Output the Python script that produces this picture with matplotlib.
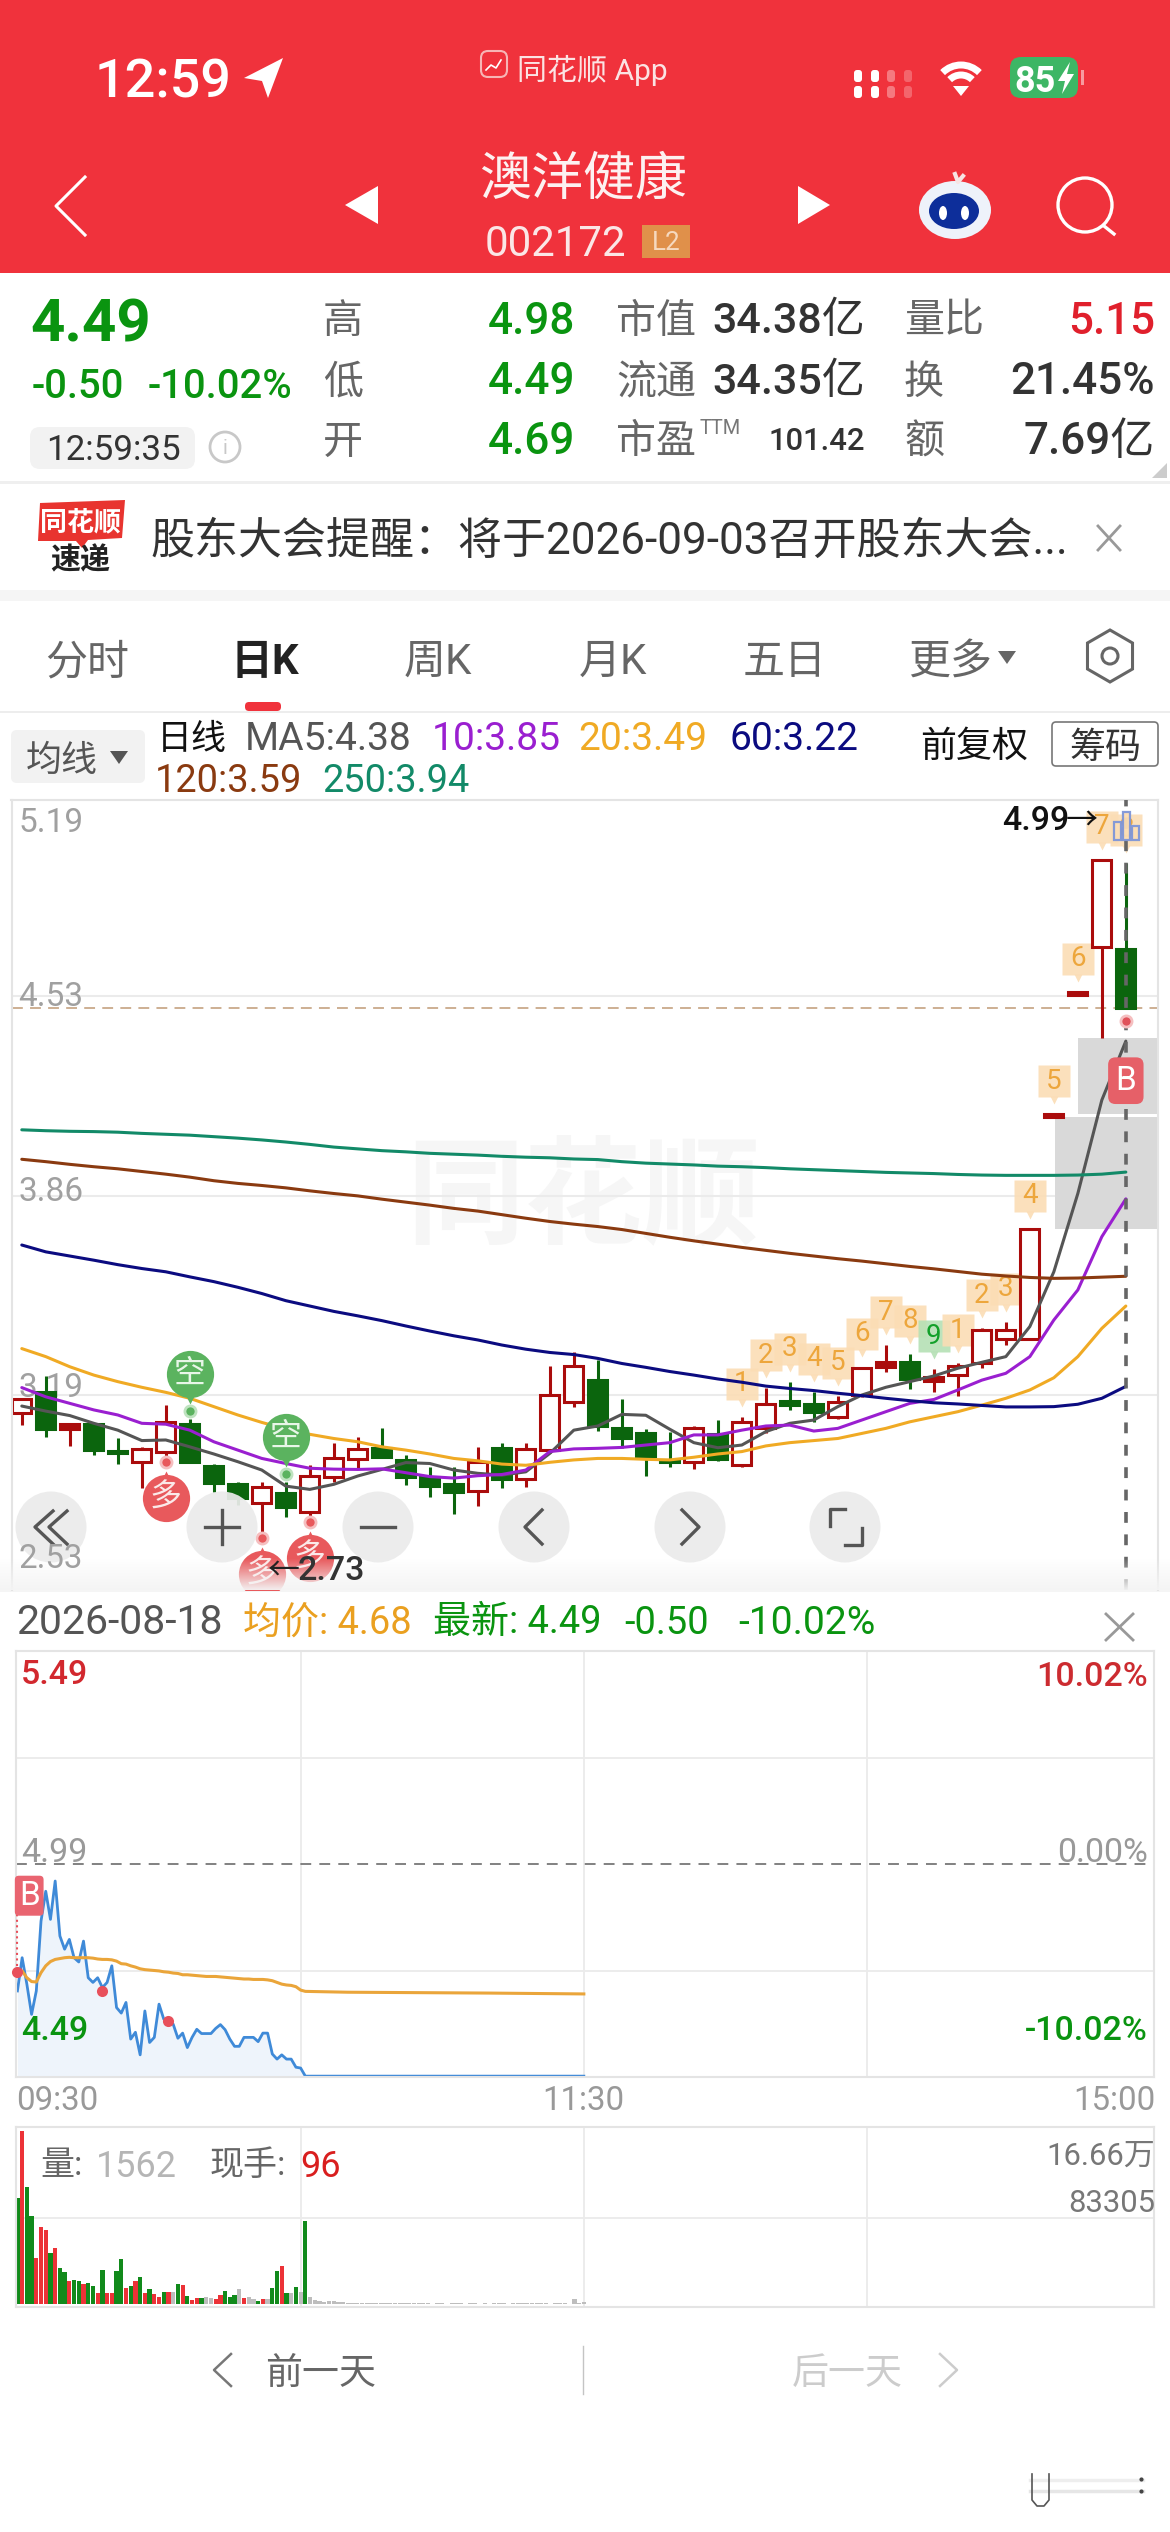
import matplotlib
matplotlib.use("Agg")
import matplotlib.pyplot as plt
import numpy as np
from matplotlib.patches import Rectangle, Circle, Ellipse, Polygon, FancyBboxPatch, Arc, RegularPolygon
from matplotlib.transforms import offset_copy

plt.rcParams['font.family'] = ['Roboto', 'Noto Sans CJK SC', 'DejaVu Sans']

W, H = 1170, 2532

# daily candles
k_open = [3.129, 3.202, 3.077, 3.092, 3.003, 2.967, 2.998, 3.092, 2.954, 2.891, 2.829, 2.863,
          2.797, 2.917, 2.976, 3.012, 2.973, 2.917, 2.892, 2.868, 3.012, 2.908, 3.008, 3.169,
          3.241, 3.081, 3.062, 2.973, 2.967, 3.060, 2.956, 3.079, 3.172, 3.161, 3.118, 3.191,
          3.286, 3.302, 3.238, 3.258, 3.300, 3.378, 3.378, 4.125, 4.535, 4.695, 4.69]
k_close = [3.177, 3.076, 3.093, 3.006, 2.996, 3.011, 3.099, 2.965, 2.896, 2.846, 2.881, 2.816,
           2.919, 2.980, 3.010, 2.984, 2.917, 2.885, 2.866, 2.965, 2.908, 3.010, 3.191, 3.289,
           3.087, 3.045, 2.986, 2.965, 3.081, 2.975, 3.100, 3.160, 3.156, 3.135, 3.169, 3.281,
           3.302, 3.246, 3.250, 3.289, 3.409, 3.409, 3.750, 4.135, 4.545, 4.99, 4.49]
k_high = [3.177, 3.255, 3.098, 3.092, 3.048, 3.017, 3.157, 3.109, 2.958, 2.898, 2.898, 2.898,
          2.956, 3.029, 3.049, 3.079, 2.989, 2.950, 2.948, 3.017, 3.029, 3.029, 3.288, 3.336,
          3.309, 3.178, 3.076, 3.068, 3.087, 3.107, 3.118, 3.213, 3.236, 3.202, 3.188, 3.286,
          3.359, 3.329, 3.277, 3.297, 3.415, 3.437, 3.750, 4.135, 4.545, 4.99, 4.98]
k_low = [3.090, 3.049, 3.020, 2.990, 2.959, 2.880, 2.984, 2.961, 2.866, 2.821, 2.726, 2.780,
         2.782, 2.900, 2.945, 2.978, 2.889, 2.849, 2.790, 2.818, 2.880, 2.881, 2.995, 3.150,
         3.071, 3.012, 2.920, 2.950, 2.941, 2.969, 2.950, 3.062, 3.141, 3.101, 3.109, 3.183,
         3.269, 3.210, 3.200, 3.189, 3.281, 3.359, 3.378, 4.125, 4.535, 4.39, 4.49]

ma5 = [3.154, 3.137, 3.122, 3.096, 3.073, 3.038, 3.040, 3.017, 2.993, 2.967, 2.939, 2.885,
       2.874, 2.891, 2.919, 2.941, 2.964, 2.961, 2.939, 2.928, 2.922, 2.933, 2.995, 3.073,
       3.087, 3.126, 3.123, 3.076, 3.031, 3.014, 3.023, 3.068, 3.096, 3.107, 3.152, 3.191,
       3.217, 3.236, 3.255, 3.281, 3.301, 3.320, 3.421, 3.605, 3.868, 4.182, 4.38]
ma10 = [3.216, 3.185, 3.163, 3.141, 3.124, 3.096, 3.093, 3.073, 3.034, 3.006, 2.978, 2.961,
        2.945, 2.942, 2.941, 2.943, 2.930, 2.917, 2.912, 2.920, 2.924, 2.939, 3.001, 3.010,
        3.012, 3.015, 3.023, 3.031, 3.057, 3.057, 3.073, 3.087, 3.090, 3.070, 3.079, 3.107,
        3.135, 3.163, 3.176, 3.208, 3.241, 3.264, 3.320, 3.443, 3.544, 3.723, 3.85]
ma20 = [3.347, 3.320, 3.286, 3.258, 3.236, 3.217, 3.200, 3.180, 3.152, 3.124, 3.099, 3.077,
        3.059, 3.045, 3.034, 3.017, 3.006, 2.993, 2.978, 2.970, 2.959, 2.955, 2.965, 2.973,
        2.978, 2.978, 2.975, 2.973, 2.982, 2.993, 3.001, 3.020, 3.031, 3.038, 3.045, 3.062,
        3.079, 3.101, 3.118, 3.135, 3.157, 3.180, 3.208, 3.249, 3.320, 3.415, 3.49]
ma60 = [3.695, 3.672, 3.658, 3.644, 3.629, 3.616, 3.605, 3.588, 3.572, 3.553, 3.532, 3.508,
        3.490, 3.472, 3.457, 3.441, 3.423, 3.406, 3.390, 3.376, 3.359, 3.345, 3.334, 3.327,
        3.314, 3.297, 3.284, 3.270, 3.258, 3.245, 3.234, 3.221, 3.213, 3.206, 3.197, 3.189,
        3.180, 3.172, 3.165, 3.161, 3.156, 3.151, 3.151, 3.152, 3.160, 3.180, 3.22]
ma120 = [3.983, 3.975, 3.966, 3.958, 3.951, 3.942, 3.933, 3.923, 3.911, 3.902, 3.895, 3.887,
         3.877, 3.868, 3.860, 3.849, 3.839, 3.829, 3.818, 3.809, 3.797, 3.785, 3.774, 3.765,
         3.757, 3.747, 3.734, 3.721, 3.709, 3.698, 3.687, 3.677, 3.667, 3.658, 3.649, 3.641,
         3.632, 3.623, 3.615, 3.606, 3.597, 3.591, 3.586, 3.583, 3.584, 3.587, 3.59]
ma250 = [4.082, 4.079, 4.077, 4.076, 4.074, 4.070, 4.067, 4.064, 4.059, 4.054, 4.048, 4.041,
         4.033, 4.024, 4.018, 4.012, 4.008, 4.003, 4.000, 3.997, 3.993, 3.990, 3.988, 3.984,
         3.982, 3.975, 3.970, 3.967, 3.964, 3.960, 3.958, 3.955, 3.951, 3.948, 3.945, 3.942,
         3.939, 3.937, 3.935, 3.932, 3.930, 3.929, 3.929, 3.929, 3.930, 3.933, 3.94]
ma_colors = ['#555555', '#9A1FD0', '#F0AA24', '#0B0B80', '#8A3A10', '#128A68']

k_ticks = [5.19, 4.53, 3.86, 3.19, 2.53]
gaps = [(43.05, 3.75, 4.125), (44.0, 4.135, 4.39)]
tag_days = list(range(30, 47))
tag_text = ['1', '2', '3', '4', '5', '6', '7', '8', '9', '1', '2', '3', '4', '5', '6', '7', '8']
short_days = [7, 11]
long_days = [6, 10, 12]

# intraday, one value a minute from 09:30
minute_price = [4.692, 4.770, 4.708, 4.637, 4.692, 4.856, 4.926, 4.860, 4.950, 4.821, 4.790, 4.813,
                4.770, 4.760, 4.809, 4.723, 4.712, 4.723, 4.700, 4.712, 4.751, 4.653, 4.640, 4.665,
                4.579, 4.595, 4.542, 4.645, 4.571, 4.583, 4.661, 4.626, 4.622, 4.614, 4.581, 4.593,
                4.559, 4.583, 4.602, 4.592, 4.592, 4.592, 4.604, 4.613, 4.601, 4.579, 4.562, 4.562,
                4.583, 4.583, 4.583, 4.573, 4.593, 4.593, 4.544, 4.532, 4.542, 4.532, 4.532, 4.513,
                4.511, 4.492] + [4.492] * 59
avg_price = [4.739, 4.739, 4.723, 4.714, 4.713, 4.735, 4.751, 4.761, 4.766, 4.768, 4.770, 4.771,
             4.770, 4.770, 4.770, 4.770, 4.769, 4.767, 4.766, 4.766, 4.765, 4.762, 4.756, 4.755,
             4.751, 4.748, 4.744, 4.742, 4.741, 4.740, 4.739, 4.737, 4.736, 4.734, 4.733, 4.730,
             4.730, 4.729, 4.728, 4.727, 4.726, 4.726, 4.726, 4.725, 4.724, 4.723, 4.722, 4.721,
             4.720, 4.720, 4.719, 4.719, 4.719, 4.718, 4.716, 4.712, 4.708, 4.706, 4.705, 4.702,
             4.694, 4.691]
avg_late_min = [70, 85, 100, 120]
avg_late = [4.689, 4.688, 4.687, 4.685]
trade_min = [0, 18, 32]
trade_price = [4.737, 4.692, 4.622]

volume = [101900, 166600, 113200, 84900, 44700, 74000, 71700, 49500, 53700, 34400, 30900, 22200,
          22800, 22200, 19300, 20300, 17700, 10900, 32800, 10600, 10900, 32200, 43100, 15100,
          17700, 21900, 25700, 10600, 14200, 9300, 7100, 11300, 11300, 11300, 19300, 18000,
          7700, 4200, 5500, 5800, 7100, 5500, 4800, 8700, 12900, 7100, 8700, 14200,
          5500, 6800, 5100, 2900, 4800, 4800, 15100, 32200, 36700, 10300, 10300, 16400,
          11600, 80100]
volume_late = [7100, 3900, 2600, 1600, 2600, 2900, 2300, 1600, 1000, 900, 800, 700, 700, 600, 600,
               700, 800, 600, 500, 500, 600, 500, 500, 800, 600, 500, 400, 500, 500, 400, 500, 800,
               500, 400, 500, 700, 400, 500, 400, 600, 800, 500, 400, 600, 1000, 900, 1000, 700,
               600, 500, 500, 400, 500, 600, 500, 400, 4500, 800, 1562]
vol_kinds = list("grgg" "rrrg" "rggr" "ggrg" "grgr" "rggr" "grgr" "grrg" "rngr"
                 "grrg" "nnrr" "gggn" "rnng" "rngg" "rgng" "ng") + ["n"] * len(volume_late)
vol_colors = {'r': '#EC3237', 'g': '#118A1B', 'n': '#BDBDBD'}

RED = '#F0323C'
GREEN = '#0A9410'
DARK_RED = '#AA0C0C'
DARK_GREEN = '#0B650D'
GRID = '#EBEBEB'

fig = plt.figure(figsize=(W / 100, H / 100), dpi=100, facecolor='white')


def px_axes(z):
    a = fig.add_axes([0, 0, 1, 1], zorder=z)
    a.set_xlim(0, W)
    a.set_ylim(H, 0)
    a.axis('off')
    a.patch.set_alpha(0)
    return a


def rect_axes(x0, y0, x1, y1, z):
    a = fig.add_axes([x0 / W, 1 - y1 / H, (x1 - x0) / W, (y1 - y0) / H], zorder=z)
    a.patch.set_alpha(0)
    a.set_xticks([])
    a.set_yticks([])
    for s in a.spines.values():
        s.set_color('#E4E4E4')
        s.set_linewidth(1.5)
    return a


bg = px_axes(0)
over = px_axes(10)


def label(a, x, y, s, px, color='#333333', ha='left', weight='normal', **kw):
    a.text(x, y, s, fontsize=px * 0.72, color=color, ha=ha, va='center_baseline', weight=weight, **kw)


# ---- header
bg.add_patch(Rectangle((0, 0), W, 273, fc=RED, ec='none'))
label(bg, 95, 77, '12:59', 54, 'white', weight='medium')
bg.add_patch(Polygon([(283, 58), (244, 78), (262, 81), (268, 98)], fc='white', ec='none'))
bg.add_patch(FancyBboxPatch((481, 51), 26, 26, boxstyle='round,pad=0,rounding_size=7', fc=RED, ec='#F7B5B5', lw=1.5))
bg.plot([486, 491, 496, 501], [70, 65, 68, 60], color='white', lw=1.2)
label(bg, 517, 67, '同花顺 App', 30, '#FBE3E3')
for cx, alpha in zip([858, 875, 891, 908], [1, 1, 0.35, 0.25]):
    for cy, hh in zip([76, 92], [12, 12]):
        bg.add_patch(FancyBboxPatch((cx - 4, cy - hh / 2), 8, hh, boxstyle='round,pad=0,rounding_size=3',
                                    fc='white', ec='none', alpha=alpha))
for r, lw in zip([26, 16], [5, 5]):
    bg.add_patch(Arc((961, 91), 2 * r, 2 * r, theta1=225, theta2=315, color='white', lw=lw))
bg.add_patch(Polygon([(953, 86), (969, 86), (961, 96)], fc='white', ec='none'))
bg.add_patch(FancyBboxPatch((1010, 57), 68, 41, boxstyle='round,pad=0,rounding_size=11', fc='#3DB665', ec='none'))
bg.add_patch(Rectangle((1081, 70), 3, 15, fc='#F79A9F', ec='none'))
label(bg, 1014, 78, '85', 36, 'white', weight='bold')
bg.add_patch(Polygon([(1070, 62), (1058, 81), (1065, 81), (1062, 94), (1074, 74), (1067, 74)], fc='white', ec='none'))

label(bg, 583, 175, '澳洋健康', 52, '#FDF1F1', ha='center')
label(bg, 485, 240, '002172', 42, '#FBE6E6')
bg.add_patch(Rectangle((642, 225), 48, 33, fc='#E0904A', ec='none'))
label(bg, 666, 241, 'L2', 26, '#F6D9BF', ha='center')
bg.plot([85, 56, 85], [177, 206, 235], color='white', lw=2.2)
bg.add_patch(Polygon([(378, 186), (345, 205), (378, 224)], fc='white', ec='none'))
bg.add_patch(Polygon([(798, 186), (830, 205), (798, 224)], fc='white', ec='none'))
# robot
bg.add_patch(Ellipse((955, 210), 72, 58, fc='#EEF2FA', ec='none'))
bg.add_patch(Ellipse((954, 211), 50, 36, fc='#0D2E9A', ec='none'))
bg.add_patch(Ellipse((943, 213), 8, 14, fc='white', ec='none'))
bg.add_patch(Ellipse((965, 213), 8, 14, fc='white', ec='none'))
bg.plot([955, 958, 963], [174, 182, 176], color='#F7E4E4', lw=3)
bg.add_patch(Circle((1085, 205), 27, fc='none', ec='white', lw=2.4))
bg.plot([1104, 1114], [226, 234], color='white', lw=2.4)

# ---- quote block
label(bg, 30, 319, '4.49', 60, GREEN, weight='bold')
label(bg, 32, 383, '-0.50', 40, GREEN, weight='medium')
label(bg, 148, 383, '-10.02%', 40, GREEN, weight='medium')
bg.add_patch(FancyBboxPatch((30, 427), 165, 42, boxstyle='round,pad=0,rounding_size=10', fc='#F2F2F2', ec='none'))
label(bg, 113, 447, '12:59:35', 35, '#333333', ha='center')
bg.add_patch(Circle((225, 447), 15, fc='none', ec='#C8C8C8', lw=2))
label(bg, 225, 447, 'i', 20, '#C8C8C8', ha='center')
rows_y = [317, 378, 438]
for y, name, val in zip(rows_y, ['高', '低', '开'], ['4.98', '4.49', '4.69']):
    label(bg, 343, y, name, 40, '#666666', ha='center')
    label(bg, 575, y, val, 44, GREEN, ha='right', weight='medium')
label(bg, 616, rows_y[0], '市值', 40, '#666666')
label(bg, 616, rows_y[1], '流通', 40, '#666666')
label(bg, 616, rows_y[2], '市盈', 40, '#666666')
label(bg, 700, 426, 'TTM', 20, '#777777')
label(bg, 865, rows_y[0], '34.38亿', 43, '#333333', ha='right', weight='medium')
label(bg, 865, rows_y[1], '34.35亿', 43, '#333333', ha='right', weight='medium')
label(bg, 865, rows_y[2], '101.42', 31, '#333333', ha='right', weight='medium')
label(bg, 904, rows_y[0], '量比', 40, '#666666')
label(bg, 904, rows_y[1], '换', 40, '#666666')
label(bg, 904, rows_y[2], '额', 40, '#666666')
label(bg, 1155, rows_y[0], '5.15', 44, '#E0202C', ha='right', weight='medium')
label(bg, 1155, rows_y[1], '21.45%', 44, '#333333', ha='right', weight='medium')
label(bg, 1155, rows_y[2], '7.69亿', 44, '#333333', ha='right', weight='medium')
bg.add_patch(Polygon([(1167, 463), (1167, 478), (1152, 478)], fc='#CCCCCC', ec='none'))
bg.add_patch(Rectangle((0, 481), W, 3, fc='#EFEFEF', ec='none'))

# ---- news strip
bg.add_patch(Polygon([(40, 503), (125, 500), (122, 538), (88, 540), (82, 548), (76, 541), (38, 541)], fc='#E8342F', ec='none'))
label(bg, 81, 520, '同花顺', 27, 'white', ha='center', weight='bold', style='italic')
label(bg, 80, 558, '速递', 30, '#222222', ha='center', weight='bold', style='italic')
label(bg, 150, 537, '股东大会提醒：将于2026-09-03召开股东大会...', 44, '#333333')
bg.plot([1098, 1120], [526, 550], color='#999999', lw=2)
bg.plot([1098, 1120], [550, 526], color='#999999', lw=2)
bg.add_patch(Rectangle((0, 590), W, 11, fc='#F5F5F5', ec='none'))

# ---- tabs
for cx, name, col, wt in zip([87, 265, 438, 613, 785], ['分时', '日K', '周K', '月K', '五日'],
                             ['#666666', '#222222', '#666666', '#666666', '#666666'],
                             ['normal', 'bold', 'normal', 'normal', 'normal']):
    label(bg, cx, 658, name, 42, col, ha='center', weight=wt)
label(bg, 908, 658, '更多', 42, '#666666')
bg.add_patch(Polygon([(998, 651), (1016, 651), (1007, 664)], fc='#666666', ec='none'))
bg.add_patch(RegularPolygon((1110, 656), 6, radius=26, fc='none', ec='#666666', lw=2.2))
bg.add_patch(Circle((1110, 656), 8, fc='none', ec='#666666', lw=2.2))
bg.add_patch(FancyBboxPatch((245, 702), 36, 9, boxstyle='round,pad=0,rounding_size=4', fc=RED, ec='none'))
bg.add_patch(Rectangle((0, 711), W, 2, fc='#EDEDED', ec='none'))

bg.add_patch(FancyBboxPatch((11, 730), 134, 53, boxstyle='round,pad=0,rounding_size=6', fc='#F2F2F2', ec='none'))
label(bg, 26, 757, '均线', 36, '#555555')
bg.add_patch(Polygon([(110, 751), (128, 751), (119, 764)], fc='#555555', ec='none'))
label(bg, 157, 736, '日线', 35, '#111111')
for x, s, c in zip([245, 432, 578, 730], ['MA5:4.38', '10:3.85', '20:3.49', '60:3.22'], ma_colors):
    label(bg, x, 736, s, 39, c)
for x, s, c in zip([155, 322], ['120:3.59', '250:3.94'], ma_colors[4:]):
    label(bg, x, 777, s, 38, c)
label(bg, 920, 743, '前复权', 36, '#111111')
bg.add_patch(FancyBboxPatch((1052, 722), 106, 44, boxstyle='round,pad=0,rounding_size=4', fc='white', ec='#777777', lw=1.2))
label(bg, 1105, 744, '筹码', 36, '#333333', ha='center')

# ---- daily K chart
label(bg, 583, 1190, '同花顺', 118, '#F6F6F6', ha='center', weight='bold', style='italic')

kax = rect_axes(11.5, 800, 1158, 1590, 1)
kax.set_xlim(-0.429, 47.34)
kax.set_ylim(2.536, 5.19)
kax.spines['bottom'].set_visible(False)
days = np.arange(len(k_open))

for p in k_ticks[1:4]:
    kax.axhline(p, color=GRID, lw=1.5, zorder=0)
for p, va, dy in zip(k_ticks[:4], ['top', 'bottom', 'bottom', 'bottom'], [-0.025, -0.054, -0.04, -0.03]):
    kax.text(0.006, p + dy, f'{p:.2f}', transform=kax.get_yaxis_transform(), fontsize=24, color='#A0A0A0', va=va, zorder=1)
for left, lo, hi in gaps:
    kax.fill_between([left, 47.34], lo, hi, color='#D9D9D9', lw=0, zorder=0.5)
kax.axhline(4.49, color='#C9A98A', lw=1.3, ls=(0, (6, 4)), zorder=1)

tag_tr = offset_copy(kax.transData, fig=fig, x=0, y=33 * 0.72, units='points')
tip_tr = offset_copy(kax.transData, fig=fig, x=0, y=14 * 0.72, units='points')
for d, s in zip(tag_days, tag_text):
    fc, tc = ('#B5E0B5', '#12A02A') if s == '9' and d == 38 else ('#FBDDB5', '#EDA63C')
    kax.plot(d, k_high[d], marker='s', ms=23, mfc=fc, mec='none', alpha=0.9, transform=tag_tr, zorder=1.5, clip_on=False)
    kax.plot(d, k_high[d], marker='v', ms=6, mfc=fc, mec='none', alpha=0.9, transform=tip_tr, zorder=1.5)
    kax.text(d, k_high[d], s, transform=tag_tr, fontsize=20, color=tc, ha='center', va='center', zorder=1.6)

for i in days:
    up = k_close[i] >= k_open[i]
    col = DARK_RED if up else DARK_GREEN
    lo, hi = min(k_open[i], k_close[i]), max(k_open[i], k_close[i])
    face = col if (not up or hi - lo < 0.02) else 'white'
    kax.vlines(i, k_low[i], k_high[i], color=col, lw=2.2, zorder=2)
    kax.bar(i, hi - lo, bottom=lo, width=0.8, fc=face, ec=col, lw=2.2, zorder=2.1)

for m, c in zip([ma5, ma10, ma20, ma60, ma120, ma250], ma_colors):
    kax.plot(days, m, color=c, lw=2.2, zorder=3, solid_capstyle='round')

kax.axvline(46, color='#666666', lw=2.6, ls=(0, (3, 3.2)), zorder=4, ymin=0, ymax=1)

# buy / sell markers
up_ball = offset_copy(kax.transData, fig=fig, x=0, y=45 * 0.72, units='points')
up_tail = offset_copy(kax.transData, fig=fig, x=0, y=21 * 0.72, units='points')
up_dot = offset_copy(kax.transData, fig=fig, x=0, y=8 * 0.72, units='points')
dn_ball = offset_copy(kax.transData, fig=fig, x=0, y=-41 * 0.72, units='points')
dn_tail = offset_copy(kax.transData, fig=fig, x=0, y=-20 * 0.72, units='points')
dn_dot = offset_copy(kax.transData, fig=fig, x=0, y=-5 * 0.72, units='points')
for d in short_days:
    kax.plot(d, k_high[d], 'o', ms=34, mfc='#5BB35F', mec='none', transform=up_ball, zorder=5)
    kax.plot(d, k_high[d], 'v', ms=8, mfc='#5BB35F', mec='none', transform=up_tail, zorder=5)
    kax.plot(d, k_high[d], 'o', ms=8, mfc='#5BB35F', mec='#BFE3C0', mew=2, transform=up_dot, zorder=5)
    kax.text(d, k_high[d], '空', transform=up_ball, fontsize=23, color='#E8F6E8', ha='center', va='center', zorder=5.1)
for d in long_days:
    kax.plot(d, k_low[d], 'o', ms=34, mfc='#E8595C', mec='none', transform=dn_ball, zorder=5)
    kax.plot(d, k_low[d], '^', ms=8, mfc='#E8595C', mec='none', transform=dn_tail, zorder=5)
    kax.plot(d, k_low[d], 'o', ms=8, mfc='#E8595C', mec='#F5BFC0', mew=2, transform=dn_dot, zorder=5)
    kax.text(d, k_low[d], '多', transform=dn_ball, fontsize=23, color='#FBE9E9', ha='center', va='center', zorder=5.1)

# today's trade marks
kax.plot(46, 4.447, 'o', ms=8, mfc='#E0525A', mec='#F5BFC0', mew=2, zorder=5)
kax.text(46, 4.247, 'B', fontsize=24, color='white', ha='center', va='center', zorder=6,
         bbox=dict(boxstyle='round,pad=0.22', fc='#E66068', ec='none'))

# overlay controls
for cx, glyph in zip([51, 222, 378, 534, 690, 845], ['dbl', 'plus', 'minus', 'lt', 'gt', 'corner']):
    over.add_patch(Circle((cx, 1527), 35.5, fc='#EBEBEB', ec='none', alpha=0.93))
    if glyph == 'dbl':
        over.plot([cx + 2, cx - 16, cx + 2], [1511, 1527, 1544], color='#555555', lw=2.4)
        over.plot([cx + 16, cx - 2, cx + 16], [1511, 1527, 1544], color='#555555', lw=2.4)
    elif glyph == 'plus':
        over.plot([cx - 17, cx + 17], [1527, 1527], color='#555555', lw=2.4)
        over.plot([cx, cx], [1510, 1544], color='#555555', lw=2.4)
    elif glyph == 'minus':
        over.plot([cx - 17, cx + 17], [1527, 1527], color='#555555', lw=2.4)
    elif glyph == 'lt':
        over.plot([cx + 8, cx - 9, cx + 8], [1510, 1527, 1544], color='#555555', lw=2.4)
    elif glyph == 'gt':
        over.plot([cx - 8, cx + 9, cx - 8], [1510, 1527, 1544], color='#555555', lw=2.4)
    else:
        over.plot([cx - 15, cx - 15, cx + 0], [1526, 1509, 1509], color='#555555', lw=2.4)
        over.plot([cx + 0, cx + 17, cx + 17], [1545, 1545, 1528], color='#555555', lw=2.4)

fade = np.ones((32, 2, 4))
fade[:, :, 0:3] = 0.96
fade[:, :, 3] = np.linspace(0, 0.96, 32)[:, None]
over.imshow(fade, extent=(0, W, 1590, 1558), aspect='auto', zorder=0.5, interpolation='bilinear')
over.set_xlim(0, W)
over.set_ylim(H, 0)

label(over, 18, 1555, '2.53', 33, '#A0A0A0')
label(over, 268, 1568, '←', 32, '#222222')
label(over, 298, 1568, '2.73', 34, '#333333', weight='medium')
label(over, 1002, 818, '4.99', 34, '#111111', weight='medium')
label(over, 1066, 818, '→', 32, '#111111')
# indicator icon at the top right
for bx, by, bw, bh in [(1114, 822, 7, 18), (1123, 812, 7, 28), (1132, 826, 7, 14)]:
    over.add_patch(Rectangle((bx, by), bw, bh, fc='#FBDDB5', ec='#7F96D8', lw=1.6, alpha=0.95))

# ---- intraday panel
bg.add_patch(Rectangle((0, 1590), W, 2, fc='#F5F5F5', ec='none'))
label(bg, 16, 1619, '2026-08-18', 41, '#555555')
label(bg, 243, 1619, '均价: 4.68', 38, '#EAA020')
label(bg, 433, 1619, '最新: 4.49', 38, GREEN)
label(bg, 624, 1619, '-0.50', 38, GREEN)
label(bg, 738, 1619, '-10.02%', 39, GREEN)
bg.plot([1106, 1133], [1614, 1640], color='#999999', lw=2)
bg.plot([1106, 1133], [1640, 1614], color='#999999', lw=2)

iax = rect_axes(16, 1651, 1153.6, 2077, 1)
iax.set_xlim(-0.3, 240.7)
iax.set_ylim(4.49, 5.49)
for m in [60, 120, 180]:
    iax.axvline(m, color=GRID, lw=1.3, zorder=0)
for p in [5.24, 4.74]:
    iax.axhline(p, color=GRID, lw=1.3, zorder=0)
iax.axhline(4.99, color='#777777', lw=1.3, ls=(0, (6, 4.5)), zorder=1)
minutes = np.arange(len(minute_price))
iax.fill_between(minutes, 4.49, minute_price, color='#EEF4FB', lw=0, zorder=0.5)
iax.plot(minutes, minute_price, color='#3F8AD8', lw=2, zorder=2, clip_on=False)
iax.plot(list(np.arange(len(avg_price))) + avg_late_min, avg_price + avg_late, color='#EAA53A', lw=2.2, zorder=3)
iax.plot(trade_min, trade_price, 'o', ms=8, mfc='#E8505B', mec='none', zorder=4, clip_on=False)
iax.plot([0, 0], [4.75, 4.87], color='#E8505B', lw=1.5, ls=':', zorder=3)
iax.text(0.3, 4.878, 'B', fontsize=24, color='white', ha='left', va='bottom', zorder=5,
         bbox=dict(boxstyle='round,pad=0.12', fc='#E96470', ec='none'))

label(over, 21, 1672, '5.49', 34, '#D2282E', weight='medium')
label(over, 1148, 1673, '10.02%', 34, '#CC2B30', ha='right', weight='medium')
label(over, 21, 1850, '4.99', 34, '#999999')
label(over, 1148, 1850, '0.00%', 34, '#999999', ha='right')
label(over, 21, 2027, '4.49', 34, GREEN, weight='medium')
label(over, 1148, 2027, '-10.02%', 34, GREEN, ha='right', weight='medium')
label(bg, 16, 2098, '09:30', 33, '#999999')
label(bg, 583, 2098, '11:30', 33, '#999999', ha='center')
label(bg, 1155, 2098, '15:00', 33, '#999999', ha='right')

# ---- volume panel
vax = rect_axes(16, 2127, 1153.6, 2307, 1)
vax.set_xlim(-0.3, 240.7)
vax.set_ylim(-2900, 170770)
for m in [60, 120, 180]:
    vax.axvline(m, color=GRID, lw=1.3, zorder=0)
vax.axhline(83305, color=GRID, lw=1.3, zorder=0)
all_vol = volume + volume_late
vax.bar(np.arange(len(all_vol)), all_vol, width=0.9, color=[vol_colors[k] for k in vol_kinds], zorder=2)
label(over, 40, 2163, '量:', 34, '#666666')
label(over, 96, 2163, '1562', 36, '#B5B5B5')
label(over, 210, 2163, '现手:', 34, '#666666')
label(over, 300, 2163, '96', 36, '#D91E1E')
label(over, 1155, 2153, '16.66万', 31, '#777777', ha='right')
label(over, 1155, 2200, '83305', 31, '#777777', ha='right')

# ---- bottom bar
bg.plot([231, 214, 231], [2354, 2370, 2386], color='#777777', lw=1.8)
label(bg, 265, 2370, '前一天', 37, '#666666')
bg.plot([583, 583], [2346, 2394], color='#C4C4C4', lw=1)
label(bg, 792, 2370, '后一天', 37, '#CCCCCC')
bg.plot([940, 957, 940], [2354, 2370, 2386], color='#CCCCCC', lw=1.8)
bg.plot([1030, 1143], [2480, 2480], color='#EEEEEE', lw=2.5)
bg.plot([1030, 1143], [2491, 2491], color='#E6E6E6', lw=2.5)
bg.plot([1032, 1032, 1037, 1044, 1049, 1049], [2474, 2500, 2506, 2506, 2500, 2474], color='#555555', lw=1.2)
bg.plot([1141, 1141], [2479, 2491], 'o', color='#444444', ms=2)

fig.savefig('out.png', dpi=100, facecolor='white')
